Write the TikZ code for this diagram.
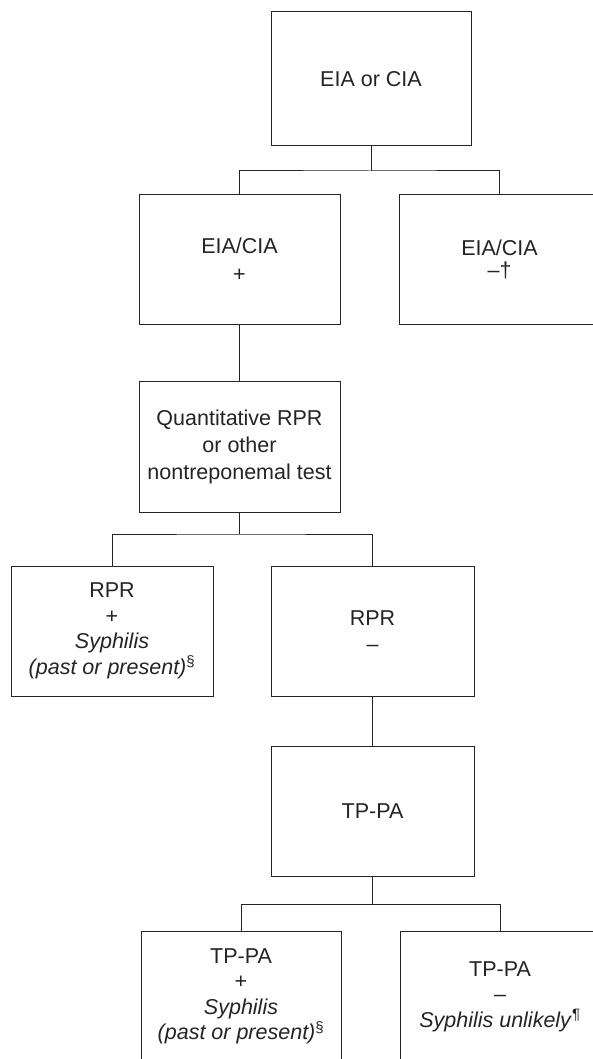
\documentclass[tikz,border=0pt]{standalone}
\usepackage{fontspec}
\setmainfont{Liberation Sans}
\definecolor{ink}{HTML}{242424}
\tikzset{
  testbox/.style={draw=ink, line width=1pt, rectangle, inner sep=0pt,
    text=ink, font=\fontsize{21.5}{25.5}\selectfont, align=center},
  link/.style={draw=ink, line width=1pt}
}
\begin{document}
\begin{tikzpicture}[x=1pt, y=-1pt]
\useasboundingbox (0,0) rectangle (593,1059);
\clip (0,0) rectangle (593,1059);

\node[testbox, minimum width=200pt, minimum height=134pt] (top) at (371,79)
  {EIA or CIA};
\node[testbox, minimum width=201pt, minimum height=129pt] (epos) at (239.5,259.5)
  {EIA/CIA\\[2pt]+};
\node[testbox, minimum width=201pt, minimum height=129pt] (eneg) at (499.5,259.5)
  {EIA/CIA\\[-3pt]–†};
\node[testbox, minimum width=201pt, minimum height=131pt] (quant) at (239.5,446.5)
  {Quantitative RPR\\[1.5pt]or other\\[1.5pt]nontreponemal test};
\node[testbox, minimum width=202pt, minimum height=130pt] (rpos) at (112,631)
  {RPR\\+\\\textit{Syphilis}\\\textit{(past or present)}\textsuperscript{§}};
\node[testbox, minimum width=203pt, minimum height=130pt] (rneg) at (372.5,631)
  {RPR\\–};
\node[testbox, minimum width=203pt, minimum height=130pt] (tppa) at (372.5,811)
  {TP-PA};
\node[testbox, minimum width=200pt, minimum height=131pt] (tpos) at (241,996.5)
  {TP-PA\\+\\\textit{Syphilis}\\\textit{(past or present)}\textsuperscript{§}};
\node[testbox, minimum width=200pt, minimum height=131pt] (tneg) at (500,996.5)
  {TP-PA\\–\\\textit{Syphilis unlikely}\textsuperscript{¶}};

% branching levels
\coordinate (j1) at (370,171);
\coordinate (j2) at (239.5,534);
\coordinate (j3) at (370,904);

\draw[link] (top.south) -- (top.south |- j1);
\draw[link] (epos.north) |- (j1) -| (eneg.north);
\draw[link] (epos.south) -- (quant.north);
\draw[link] (quant.south) -- (j2);
\draw[link] (rpos.north) |- (j2) -| (rneg.north);
\draw[link] (rneg.south) -- (tppa.north);
\draw[link] (tppa.south) -- (tppa.south |- j3);
\draw[link] (tpos.north) |- (j3) -| (tneg.north);
\end{tikzpicture}
\end{document}
